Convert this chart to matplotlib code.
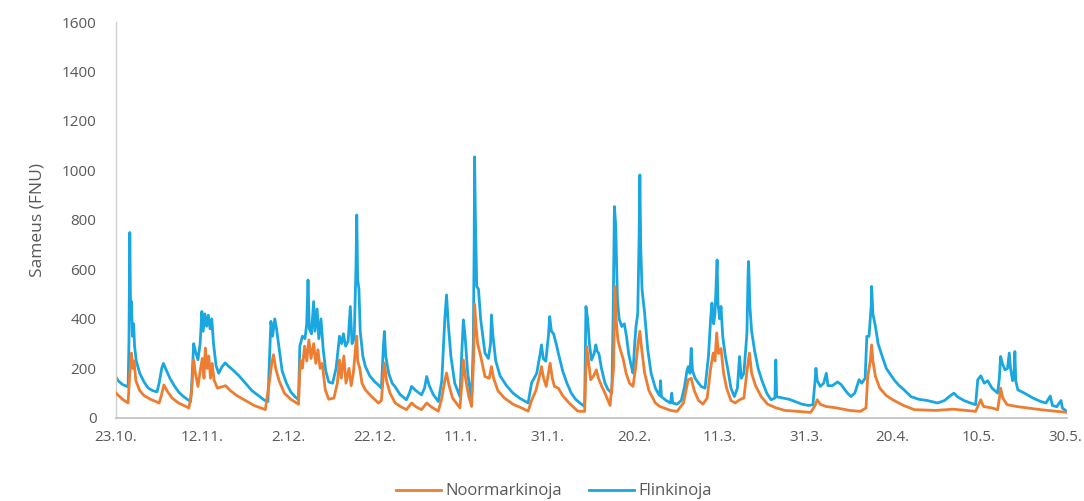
import matplotlib
matplotlib.use('Agg')
import matplotlib.pyplot as plt
from matplotlib.ticker import FixedLocator

# days counted from 23.10.
flink_days = [0, 0.5, 1.5, 2.8, 3.0, 3.2, 3.4, 3.6, 3.8, 4.1, 4.3, 4.7, 5.5, 6.5, 7.5, 8.5, 9.5, 10.0, 10.6, 11.0,
              11.6, 12.5, 13.5, 14.5, 15.5, 16.5, 17.3, 17.6, 18.0, 18.4, 19.0, 19.5, 19.9, 20.2, 20.6, 21.0, 21.4, 21.8, 22.2, 22.6,
              23.2, 23.8, 24.5, 25.3, 26.0, 27.0, 28.5, 30.0, 31.5, 33.0, 34.5, 35.2, 35.5, 35.9, 36.3, 36.8, 37.2, 37.8, 38.5, 39.5,
              40.5, 41.5, 42.3, 42.6, 43.2, 43.8, 44.2, 44.5, 44.8, 45.3, 45.8, 46.1, 46.6, 47.0, 47.5, 48.0, 48.6, 49.3, 50.2, 51.0,
              51.8, 52.3, 52.7, 53.2, 53.8, 54.3, 54.7, 55.2, 55.6, 55.8, 56.0, 56.3, 56.6, 57.2, 57.8, 58.8, 60.0, 60.8, 61.5, 62.0,
              62.2, 62.5, 63.2, 64.0, 64.7, 65.8, 67.3, 68.0, 68.5, 69.5, 70.8, 71.5, 72.0, 72.6, 73.5, 74.7, 75.5, 76.2, 76.6, 77.0,
              77.6, 78.5, 79.7, 80.1, 80.5, 80.9, 81.5, 82.4, 82.8, 83.0, 83.1, 83.3, 83.6, 84.0, 84.5, 85.5, 86.3, 86.8, 87.0, 87.3,
              88.0, 89.0, 90.5, 92.0, 93.5, 95.5, 96.3, 97.5, 98.3, 98.6, 99.0, 99.6, 100.2, 100.5, 100.9, 101.4, 102.0, 102.5, 103.5, 104.5,
              105.5, 106.5, 107.5, 108.6, 108.8, 108.9, 109.3, 109.7, 110.2, 110.8, 111.2, 111.5, 111.9, 112.5, 113.3, 114.0, 114.9, 115.2, 115.5, 115.8,
              116.2, 116.6, 117.2, 117.8, 118.3, 118.8, 119.4, 119.8, 120.2, 120.5, 120.9, 121.2, 121.4, 121.6, 121.9, 122.5, 123.2, 124.0, 125.0, 125.6,
              126.0, 126.2, 126.4, 127.5, 128.5, 128.8, 129.0, 130.0, 131.0, 131.8, 132.3, 132.6, 133.0, 133.3, 133.6, 134.2, 135.0, 135.6, 136.5, 137.3,
              137.8, 138.1, 138.5, 138.8, 139.1, 139.3, 139.5, 139.9, 140.2, 140.6, 141.2, 141.8, 142.5, 143.3, 144.0, 144.5, 144.9, 145.5, 146.2, 146.5,
              146.6, 146.9, 147.3, 148.0, 148.8, 149.7, 150.8, 151.8, 152.7, 152.9, 153.1, 154.5, 156.0, 157.5, 159.0, 160.5, 161.5, 162.0, 162.2, 162.5,
              163.2, 164.0, 164.6, 165.0, 166.0, 167.2, 168.0, 169.5, 170.3, 171.2, 172.2, 172.8, 173.6, 174.0, 174.5, 175.0, 175.1, 175.4, 176.0, 176.6,
              177.3, 178.5, 180.3, 181.5, 182.5, 184.2, 186.0, 188.0, 190.4, 192.0, 193.0, 194.2, 195.0, 196.5, 198.0, 199.2, 199.7, 200.4, 201.2, 202.0,
              203.0, 204.3, 204.7, 205.0, 205.4, 206.0, 206.6, 207.0, 207.3, 207.8, 208.1, 208.3, 208.5, 209.0, 210.5, 212.5, 214.3, 215.5, 216.5, 217.0,
              218.0, 219.0, 219.3, 220.0, 220.5]
flink_vals = [165, 150, 135, 125, 300, 749, 400, 470, 330, 380, 290, 230, 180, 145, 120, 110, 105, 140, 200, 220,
              195, 160, 130, 105, 88, 75, 66, 150, 300, 270, 235, 300, 430, 350, 420, 370, 415, 360, 400, 300,
              210, 180, 205, 222, 210, 195, 170, 140, 110, 90, 70, 66, 200, 390, 330, 400, 360, 280, 190, 140,
              105, 85, 73, 290, 330, 320, 380, 557, 360, 340, 470, 350, 440, 320, 400, 280, 190, 145, 140, 200,
              330, 300, 340, 290, 310, 450, 300, 320, 600, 820, 560, 520, 350, 250, 207, 170, 145, 133, 120, 300,
              349, 250, 180, 140, 125, 95, 73, 100, 127, 110, 93, 120, 167, 130, 95, 66, 150, 400, 497, 380,
              250, 140, 86, 250, 396, 330, 180, 73, 300, 700, 1055, 800, 531, 520, 400, 262, 240, 300, 416, 340,
              230, 170, 130, 100, 80, 60, 141, 180, 260, 295, 240, 229, 330, 409, 350, 340, 300, 262, 190, 140,
              100, 75, 60, 46, 300, 450, 400, 300, 234, 260, 295, 270, 260, 200, 141, 115, 100, 400, 854, 780,
              477, 400, 369, 380, 329, 260, 210, 181, 300, 369, 420, 700, 982, 692, 520, 423, 280, 180, 120, 100,
              90, 150, 85, 70, 60, 100, 60, 55, 70, 130, 190, 207, 180, 281, 190, 160, 140, 127, 120, 250,
              400, 464, 380, 420, 550, 638, 460, 400, 450, 330, 250, 194, 120, 86, 120, 248, 160, 180, 340, 600,
              632, 450, 350, 270, 200, 150, 100, 73, 80, 234, 85, 80, 75, 65, 55, 50, 53, 150, 200, 150,
              127, 140, 180, 130, 130, 145, 135, 100, 86, 100, 154, 140, 160, 329, 330, 450, 531, 420, 369, 300,
              262, 200, 154, 130, 115, 86, 75, 70, 60, 70, 85, 100, 85, 70, 60, 53, 154, 170, 140, 150,
              120, 100, 160, 248, 220, 194, 200, 262, 200, 150, 180, 268, 150, 113, 100, 80, 66, 60, 88, 50,
              45, 70, 40, 30, 25]

noor_days = [0, 1.5, 2.8, 3.2, 3.6, 3.9, 4.2, 4.6, 5.5, 6.5, 8.0, 10.0, 10.5, 11.1, 11.8, 13.0, 14.5, 16.9, 17.5, 18.0,
             18.4, 19.0, 19.6, 20.0, 20.4, 20.7, 21.1, 21.5, 21.9, 22.3, 22.7, 23.5, 25.4, 26.5, 28.0, 30.0, 32.0, 34.6, 35.5, 36.1,
             36.5, 37.0, 37.8, 39.0, 40.5, 42.3, 42.7, 43.2, 43.7, 44.2, 44.7, 45.2, 45.8, 46.3, 46.8, 47.3, 47.8, 48.5, 49.3, 50.5,
             51.3, 51.8, 52.2, 52.8, 53.3, 54.0, 54.5, 55.0, 55.6, 55.8, 56.0, 56.5, 57.0, 57.8, 59.0, 60.8, 61.5, 62.2, 62.7, 63.5,
             64.7, 66.0, 67.3, 68.5, 69.5, 70.8, 72.0, 73.0, 74.7, 75.5, 76.2, 76.6, 77.2, 78.0, 79.7, 80.2, 80.5, 81.0, 81.7, 82.4,
             82.9, 83.1, 83.4, 83.8, 84.5, 85.5, 86.5, 87.0, 87.5, 88.5, 90.0, 92.0, 94.0, 95.5, 96.3, 97.3, 98.3, 98.6, 99.1, 99.7,
             100.2, 100.6, 101.1, 101.6, 102.5, 103.5, 105.0, 107.0, 108.6, 108.9, 109.1, 109.5, 110.0, 110.7, 111.3, 111.8, 112.5, 113.3, 114.5, 115.3,
             115.6, 115.9, 116.3, 116.8, 117.5, 118.2, 119.0, 119.8, 120.4, 121.0, 121.4, 121.8, 122.5, 123.5, 125.0, 126.0, 128.5, 130.0, 131.5, 132.6,
             133.3, 134.0, 135.0, 136.0, 137.0, 137.8, 138.4, 138.8, 139.2, 139.6, 140.2, 140.8, 141.5, 142.5, 143.5, 144.5, 145.5, 146.3, 146.8, 147.3,
             148.2, 149.5, 151.0, 153.0, 155.0, 158.0, 161.0, 162.0, 162.5, 163.2, 164.5, 167.0, 170.0, 172.5, 173.8, 174.2, 174.8, 175.1, 175.4, 176.0,
             177.0, 178.5, 180.0, 182.5, 185.0, 190.0, 194.0, 199.2, 199.8, 200.4, 201.0, 203.0, 204.3, 204.8, 205.0, 205.5, 206.5, 209.0, 212.0, 214.3,
             217.0, 220.5]
noor_vals = [100, 75, 60, 180, 262, 200, 230, 150, 110, 90, 75, 60, 90, 133, 110, 80, 60, 40, 100, 234,
             180, 127, 200, 240, 160, 282, 200, 250, 160, 220, 154, 120, 130, 110, 90, 70, 50, 33, 140, 220,
             255, 200, 150, 100, 75, 55, 234, 200, 290, 230, 315, 240, 300, 220, 275, 200, 220, 113, 75, 80,
             140, 234, 160, 250, 140, 200, 130, 180, 300, 330, 230, 200, 140, 113, 90, 60, 70, 222, 150, 100,
             60, 45, 33, 60, 45, 33, 60, 45, 27, 80, 150, 181, 130, 80, 40, 150, 234, 160, 90, 46,
             250, 460, 380, 300, 250, 167, 160, 207, 160, 110, 80, 55, 40, 27, 70, 110, 180, 207, 160, 127,
             180, 221, 160, 127, 120, 90, 60, 27, 26, 200, 288, 230, 154, 170, 194, 160, 130, 100, 50, 200,
             531, 400, 315, 280, 240, 181, 140, 127, 200, 303, 350, 280, 181, 110, 60, 46, 30, 26, 60, 154,
             160, 110, 70, 55, 80, 200, 262, 230, 343, 260, 280, 181, 120, 70, 60, 73, 80, 200, 262, 180,
             130, 86, 55, 40, 30, 26, 22, 50, 73, 55, 46, 40, 30, 26, 40, 167, 230, 295, 230, 167,
             120, 90, 73, 50, 33, 30, 35, 26, 50, 73, 46, 40, 33, 90, 120, 80, 53, 45, 38, 33,
             28, 22]

tick_days = [0, 20, 40, 60, 80, 100, 120, 140, 160, 180, 200, 220]
tick_labels = ['23.10.', '12.11.', '2.12.', '22.12.', '11.1.', '31.1.', '20.2.', '11.3.', '31.3.', '20.4.', '10.5.', '30.5.']
y_ticks = [0, 200, 400, 600, 800, 1000, 1200, 1400, 1600]

plt.rcParams['font.family'] = ['Open Sans', 'DejaVu Sans']

fig = plt.figure(figsize=(10.84, 5.01), dpi=100)
ax = fig.add_axes([0.107, 0.166, 0.877, 0.790])

ax.plot(flink_days, flink_vals, color='#1AA7E0', lw=2.0, label='Flinkinoja', zorder=2)
ax.plot(noor_days, noor_vals, color='#ED7D31', lw=2.0, label='Noormarkinoja', zorder=3)

ax.set_xlim(0, 220.3)
ax.set_ylim(0, 1600)
ax.xaxis.set_major_locator(FixedLocator(tick_days))
ax.set_xticklabels(tick_labels)
ax.set_yticks(y_ticks)
ax.tick_params(length=0, labelsize=11, colors='#595959')
ax.tick_params(axis='x', pad=9)
ax.tick_params(axis='y', pad=14)

for s in ['top', 'right']:
    ax.spines[s].set_visible(False)
ax.spines['left'].set_color('#D0D0D0')
ax.spines['bottom'].set_color('#BFBFBF')
ax.spines['left'].set_linewidth(1.0)
ax.spines['bottom'].set_linewidth(1.2)

ax.set_ylabel('Sameus (FNU)', fontsize=12.5, color='#595959', labelpad=12)

h, l = ax.get_legend_handles_labels()
fig.legend(h[::-1], l[::-1], loc='center', bbox_to_anchor=(0.511, 0.019), ncol=2,
           frameon=False, fontsize=12, labelcolor='#595959', handlelength=2.7,
           handletextpad=0.3, columnspacing=1.6)

fig.savefig('out.png', dpi=100)
